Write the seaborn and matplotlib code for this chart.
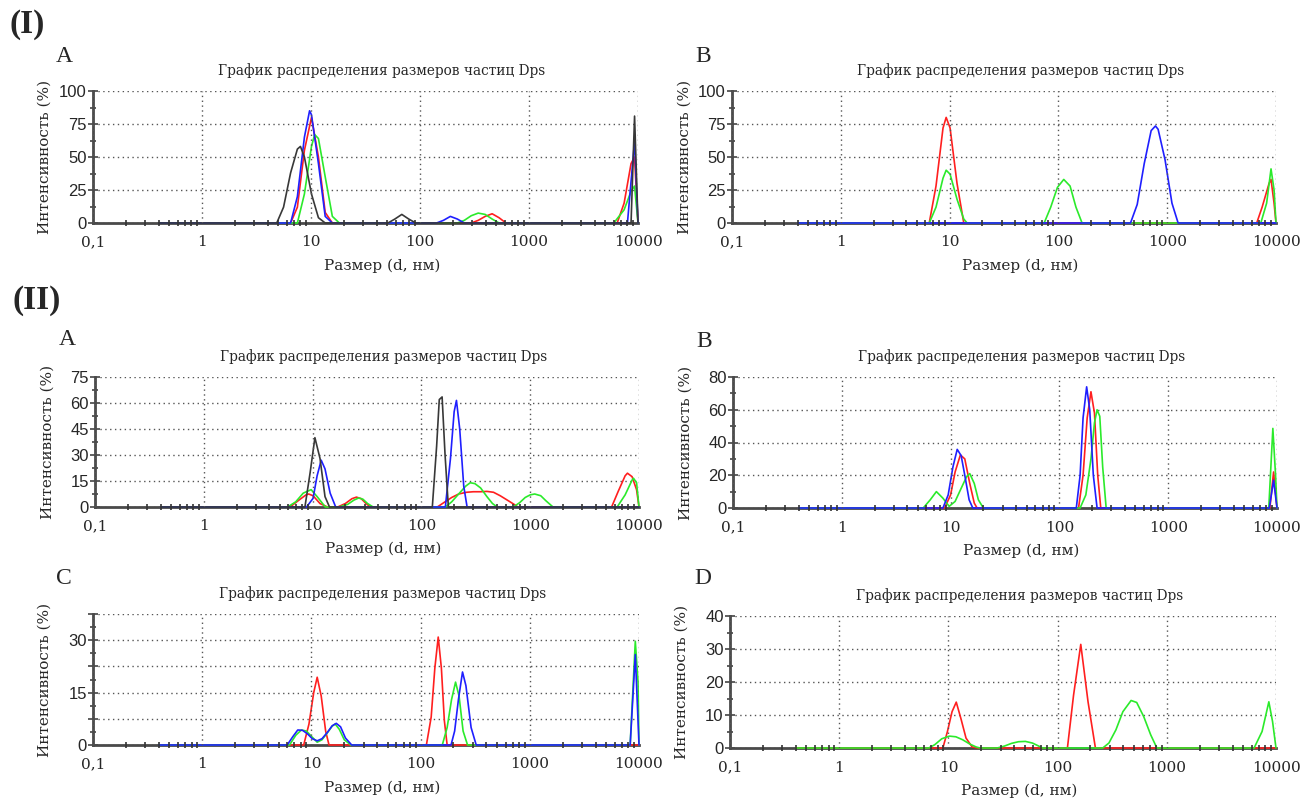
import matplotlib
matplotlib.use('Agg')
import matplotlib.pyplot as plt
import pandas as pd
import seaborn as sns
from matplotlib.ticker import FixedLocator, FixedFormatter, MultipleLocator, FuncFormatter, LogLocator, NullFormatter

# ---------------- data (size, nm / intensity, %) ----------------
# (I) A
ia_red_size = [0.4, 6.5, 7.5, 8.7, 10.1, 11.7, 13.5, 15.7, 295, 342, 396, 459, 531, 615, 6439, 7456, 8635, 9300, 10000]
ia_red_int = [0, 0, 12, 55, 80, 50, 8, 0, 0, 2, 5, 7, 4, 0, 0, 15, 45, 50, 0]
ia_green_size = [0.4, 7.5, 8.7, 10.1, 10.8, 11.7, 13.5, 15.7, 18.2, 220, 255, 295, 342, 396, 459, 531, 6000, 7456, 8635, 9300, 10000]
ia_green_int = [0, 0, 22, 58, 67, 64, 35, 5, 0, 0, 2, 5.5, 7.5, 6.5, 3, 0, 0, 10, 24, 28, 0]
ia_blue_size = [0.4, 6.5, 7.5, 8.7, 9.7, 10.1, 11.7, 13.5, 15.7, 142, 164, 190, 220, 255, 8000, 9300, 10000]
ia_blue_int = [0, 0, 20, 65, 85, 82, 45, 5, 0, 0, 2, 5, 3, 0, 0, 62, 0]
ia_black_size = [0.4, 4.85, 5.6, 6.5, 7.5, 8.0, 8.7, 10.1, 11.7, 13.5, 50.8, 58.8, 68.1, 78.8, 91.3, 8635, 9300, 10000]
ia_black_int = [0, 0, 12, 38, 56, 58, 50, 22, 4, 0, 0, 3, 6.5, 3, 0, 0, 81, 0]

# (I) B
ib_red_size = [0.4, 6.5, 7.5, 8.7, 9.3, 10.1, 11.7, 13.5, 6650, 7456, 8635, 9000, 9600, 10000]
ib_red_int = [0, 0, 28, 72, 80, 72, 30, 0, 0, 12, 30, 33, 15, 0]
ib_green_size = [0.4, 6.5, 7.5, 8.7, 9.3, 10.1, 11.7, 13.5, 14.5, 74, 85, 98, 112, 128, 145, 165, 7250, 8200, 9000, 9600, 10000]
ib_green_int = [0, 0, 12, 34, 40, 37, 18, 3, 0, 0, 12, 27, 33, 28, 12, 0, 0, 15, 41, 25, 0]
ib_blue_size = [0.4, 460, 530, 615, 712, 780, 825, 955, 1106, 1260, 10000]
ib_blue_int = [0, 0, 14, 45, 70, 73.5, 71, 48, 15, 0, 0]

# (II) A
iia_red_size = [0.4, 6.2, 7.5, 8.7, 9.2, 10.1, 11.7, 13.7, 17, 20, 23, 25.3, 28, 31, 34,
                140, 165, 190, 220, 260, 300, 350, 400, 460, 530, 615, 712, 770,
                5600, 6439, 7456, 7830, 8635, 9500, 10000]
iia_red_int = [0, 0, 4, 7, 7.5, 6.5, 2, 0, 0, 2, 4.8, 5.7, 4.8, 2, 0,
               0, 3, 5.5, 7.5, 8.5, 8.8, 8.8, 9, 8.5, 6.5, 4, 1.5, 0,
               0, 9, 18, 19.5, 17.5, 10, 0]
iia_green_size = [0.4, 5.9, 7.0, 8.2, 9.7, 11.0, 13.1, 17.5, 21, 24, 26.5, 29, 32, 36,
                  166, 190, 220, 255, 281, 310, 350, 400, 450, 497,
                  700, 800, 900, 1000, 1100, 1250, 1400, 1620,
                  6300, 7456, 8635, 8900, 9500, 10000]
iia_green_int = [0, 0, 3, 8, 10, 6, 0, 0, 1.5, 4, 5.2, 4.5, 2, 0,
                 0, 3, 7.5, 12, 14, 13.5, 11, 6, 2, 0,
                 0, 2.5, 5.5, 7, 7.5, 6.5, 3.5, 0,
                 0, 7, 15.5, 16.6, 14, 0]
iia_blue_size = [0.4, 8.8, 10.1, 11.0, 12.0, 13.0, 14.5, 16.3, 166, 185, 200, 210, 225, 245, 263, 10000]
iia_blue_int = [0, 0, 5, 18, 27, 22, 8, 0, 0, 28, 55, 61.5, 45, 12, 0, 0]
iia_black_size = [0.4, 8.5, 9.5, 10.5, 11.7, 13.0, 14.3, 126, 138, 146, 155, 165, 177, 10000]
iia_black_int = [0, 0, 20, 40, 28, 6, 0, 0, 35, 62, 63.5, 30, 0, 0]

# (II) B
iib_red_size = [0.4, 8.8, 10, 11, 12.3, 13.5, 15, 16.5, 17.5, 150, 165, 180, 195, 210, 225, 240, 8600, 9300, 10000]
iib_red_int = [0, 0, 8, 22, 32.4, 30, 15, 3, 0, 0, 20, 55, 71, 58, 20, 0, 0, 22, 0]
iib_green_size = [0.4, 5.6, 6.5, 7.4, 8.5, 9.7, 11.0, 12.5, 14, 15, 16.5, 18, 20,
                  155, 175, 195, 210, 222, 235, 250, 269, 8400, 9160, 9700, 10000]
iib_green_int = [0, 0, 5, 10, 6, 1, 4, 12, 19, 21, 15, 5, 0,
                 0, 8, 30, 52, 60, 56, 25, 0, 0, 48.6, 20, 0]
iib_blue_size = [0.4, 8.5, 9.5, 10.5, 11.5, 12.5, 13.5, 14.8, 16, 143, 155, 165, 178, 190, 205, 222, 8500, 9300, 10000]
iib_blue_int = [0, 0, 8, 25, 35.8, 32, 20, 5, 0, 0, 20, 55, 74, 60, 20, 0, 0, 17, 0]

# (II) C
iic_red_size = [0.4, 8.5, 9.5, 10.5, 11.3, 12.3, 13.5, 14.5, 113, 125, 135, 145, 155, 165, 175, 10000]
iic_red_int = [0, 0, 6, 15, 19.4, 14, 4, 0, 0, 8, 22, 30.9, 22, 7, 0, 0]
iic_green_size = [0.4, 6.3, 7.2, 8.1, 9.0, 10.0, 11.3, 12.5, 14, 15.5, 16.5, 18, 20, 23,
                  158, 175, 192, 209, 225, 245, 269, 8300, 9250, 9800, 10000]
iic_green_int = [0, 0, 2.8, 4.3, 4.0, 2.5, 0.8, 1.5, 3.5, 5.4, 6.0, 4.5, 1.5, 0,
                 0, 5, 13, 18, 14, 4, 0, 0, 29.7, 18, 0]
iic_blue_size = [0.4, 6.0, 6.8, 7.5, 8.3, 9.2, 10.2, 11.3, 12.5, 14, 15.5, 16.9, 18.5, 20.5, 23.4,
                 190, 205, 222, 242, 260, 290, 323, 8300, 9250, 10000]
iic_blue_int = [0, 0, 2.5, 4.3, 4.2, 3.2, 1.8, 1.2, 1.8, 3.6, 5.5, 6.2, 5.2, 2, 0,
                0, 4, 13, 20.9, 17, 5, 0, 0, 25.9, 0]

# (II) D
iid_red_size = [0.4, 8.9, 9.8, 10.8, 11.8, 13.0, 14.5, 16.5, 18.5, 123, 140, 163, 190, 222, 10000]
iid_red_int = [0, 0, 5, 11, 13.9, 9, 3, 0.3, 0, 0, 16, 31.4, 14, 0, 0]
iid_green_size = [0.4, 6.6, 7.5, 8.7, 10.2, 11.7, 13.5, 15.7, 18, 19.5,
                  28, 32.7, 37.8, 43.8, 50.7, 58.8, 68, 73,
                  259, 295, 342, 396, 471, 530, 615, 712, 811,
                  6300, 7456, 8600, 9300, 10000]
iid_green_int = [0, 0, 1, 2.8, 3.6, 3.4, 2.5, 1.2, 0.3, 0,
                 0, 0.6, 1.4, 1.9, 2.0, 1.5, 0.5, 0,
                 0, 1.5, 5.5, 11, 14.4, 13.8, 9.5, 4, 0,
                 0, 5, 14, 8, 0]

x_ticks = [0.1, 1, 10, 100, 1000, 10000]
x_tick_labels = ['0,1', '1', '10', '100', '1000', '10000']
TITLE = 'График распределения размеров частиц Dps'
XLABEL = 'Размер (d, нм)'
YLABEL = 'Интенсивность (%)'

COLORS = {'red': '#ff1f1f', 'green': '#2bea2b', 'blue': '#1f1fff', 'black': '#383838'}
SERIF = 'DejaVu Serif'
SANS = 'Liberation Sans'
W, H = 1300, 801


def make_frame(series):
    frames = [pd.DataFrame({'size': s, 'intensity': v, 'sample': name}) for name, s, v in series]
    return pd.concat(frames, ignore_index=True)


def draw_panel(fig, box, series, ymax, ystep, label_every):
    """box = (left, top, right, bottom) in pixels."""
    l, t, r, b = box
    ax = fig.add_axes([l / W, 1 - b / H, (r - l) / W, (b - t) / H])
    ax.set_xscale('log')
    df = make_frame(series)
    order = [name for name, _, _ in series]
    sns.lineplot(data=df, x='size', y='intensity', hue='sample', hue_order=order,
                 palette=COLORS, estimator=None, sort=False, legend=False,
                 linewidth=1.2, ax=ax)
    for ln in ax.lines:
        ln.set_zorder(3)
        ln.set_clip_on(False)

    ax.set_xlim(0.1, 10000)
    ax.set_ylim(0, ymax)

    ax.xaxis.set_major_locator(FixedLocator(x_ticks))
    ax.xaxis.set_major_formatter(FixedFormatter(x_tick_labels))
    ax.xaxis.set_minor_locator(LogLocator(base=10, subs=range(2, 10)))
    ax.xaxis.set_minor_formatter(NullFormatter())
    ax.yaxis.set_major_locator(MultipleLocator(ystep))
    ax.yaxis.set_minor_locator(MultipleLocator(ystep / 2))
    ax.yaxis.set_major_formatter(FuncFormatter(
        lambda v, p: f'{v:g}' if abs(v / label_every - round(v / label_every)) < 1e-6 else ''))

    ax.grid(True, which='major', axis='both', color='#555555',
            linestyle=(0, (1, 2.5)), linewidth=1.0)
    for side in ('top', 'right'):
        ax.spines[side].set_visible(False)
    for side in ('left', 'bottom'):
        ax.spines[side].set_color('#4a4a4a')
        ax.spines[side].set_linewidth(2)
    # minor x ticks show as dark dots on top of the zero baseline
    ax.xaxis.set_zorder(4)

    ax.tick_params(which='both', bottom=True, left=True)
    ax.tick_params(axis='y', which='major', direction='inout', length=7, width=1.2,
                   color='#444444', labelsize=12, pad=1)
    ax.tick_params(axis='y', which='minor', direction='inout', length=5, width=1.2,
                   color='#444444')
    ax.tick_params(axis='x', which='major', direction='inout', length=0, labelsize=11, pad=9)
    ax.tick_params(axis='x', which='minor', direction='inout', length=4, width=1.2,
                   color='#333333')
    for lab in ax.get_yticklabels():
        lab.set_fontfamily(SANS)
    for lab in ax.get_xticklabels():
        lab.set_fontfamily(SERIF)

    ax.set_xlabel(XLABEL, fontsize=11, family=SERIF)
    ax.xaxis.set_label_coords(0.53, -0.27)
    ax.set_ylabel(YLABEL, fontsize=11, family=SERIF)
    ax.yaxis.set_label_coords(-0.075, 0.5)
    ax.text(0.53, 1.1, TITLE, transform=ax.transAxes, ha='center', va='bottom',
            fontsize=9.8, family=SERIF)
    return ax


sns.set_style('white')
fig = plt.figure(figsize=(13, 8.01), dpi=100)

draw_panel(fig, (93, 91, 638, 223),
           [('red', ia_red_size, ia_red_int), ('green', ia_green_size, ia_green_int),
            ('blue', ia_blue_size, ia_blue_int), ('black', ia_black_size, ia_black_int)],
           100, 25, 25)
draw_panel(fig, (732, 91, 1276, 223),
           [('red', ib_red_size, ib_red_int), ('green', ib_green_size, ib_green_int),
            ('blue', ib_blue_size, ib_blue_int)],
           100, 25, 25)
draw_panel(fig, (95, 377, 639, 507),
           [('red', iia_red_size, iia_red_int), ('green', iia_green_size, iia_green_int),
            ('blue', iia_blue_size, iia_blue_int), ('black', iia_black_size, iia_black_int)],
           75, 15, 15)
draw_panel(fig, (733, 377, 1277, 508),
           [('red', iib_red_size, iib_red_int), ('green', iib_green_size, iib_green_int),
            ('blue', iib_blue_size, iib_blue_int)],
           80, 20, 20)
draw_panel(fig, (93, 614, 639, 745),
           [('red', iic_red_size, iic_red_int), ('green', iic_green_size, iic_green_int),
            ('blue', iic_blue_size, iic_blue_int)],
           37.5, 7.5, 15)
draw_panel(fig, (730, 616, 1276, 748),
           [('red', iid_red_size, iid_red_int), ('green', iid_green_size, iid_green_int)],
           40, 10, 10)

# section and panel letters
for txt, x, y in [('(I)', 27, 25), ('(II)', 37, 300)]:
    fig.text(x / W, 1 - y / H, txt, ha='center', va='center', fontsize=24,
             weight='bold', family='Liberation Serif')
for txt, x, y in [('A', 64, 57), ('B', 703, 57), ('A', 67, 340), ('B', 704, 342),
                  ('C', 64, 578), ('D', 703, 578)]:
    fig.text(x / W, 1 - y / H, txt, ha='center', va='center', fontsize=17,
             family='Liberation Serif')

fig.savefig('out.png', dpi=100, facecolor='white')
